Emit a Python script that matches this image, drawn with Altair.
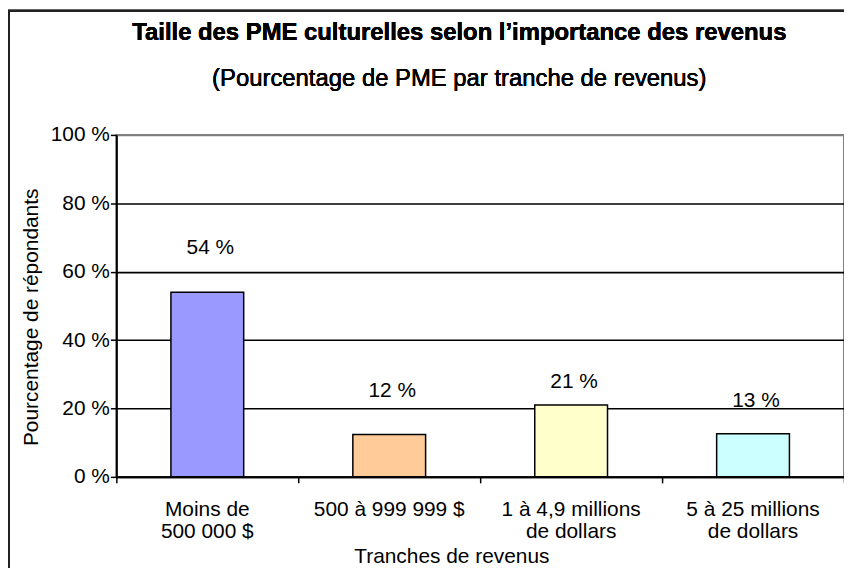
import altair as alt
import pandas as pd

# ---- data ----
categories = ["Moins de\n500 000 $", "500 à 999 999 $", "1 à 4,9 millions\nde dollars", "5 à 25 millions\nde dollars"]
values = [54, 12.4, 21, 12.6]
value_labels = ["54 %", "12 %", "21 %", "13 %"]
label_anchor = [67, 25, 27.6, 22.1]          # where each value label sits (in % units)
colors = ["#9999FF", "#FFCC99", "#FFFFCC", "#CCFFFF"]
y_ticks = [0, 20, 40, 60, 80, 100]
boundaries = [0, 1, 2, 3, 4]

title_text = "Taille des PME culturelles selon l’importance des revenus"
subtitle_text = "(Pourcentage de PME par tranche de revenus)"

FONT = "Liberation Sans"
W, H = 732, 344
FS = 21

df = pd.DataFrame({"cat": categories, "val": values, "lab": value_labels, "pos": label_anchor})
bdf = pd.DataFrame({"b": boundaries})

xscale = alt.Scale(domain=categories, paddingInner=0.6, paddingOuter=0.3)
yscale = alt.Scale(domain=[0, 100], nice=False)

yaxis = alt.Axis(values=y_ticks, labelExpr="datum.value + ' %'",
                 labelFontSize=FS, labelPadding=1, labelColor="black",
                 tickSize=6, tickColor="black", tickWidth=1.5,
                 domainColor="black", domainWidth=2,
                 grid=True, gridWidth=1.6,
                 gridColor={"condition": {"test": "datum.value >= 100", "value": "#808080"}, "value": "black"},
                 title="Pourcentage de répondants", titleFontSize=FS,
                 titleFontWeight="normal", titleColor="black",
                 titleAngle=-90, titleX=-85, titleY=183,
                 titleAlign="center", titleBaseline="middle")

bars = alt.Chart(df).mark_bar(stroke="black", strokeWidth=1.5).encode(
    x=alt.X("cat:N", sort=categories, scale=xscale,
            axis=alt.Axis(orient="bottom", ticks=False, labelAngle=0,
                          labelExpr="split(datum.label, '\\n')",
                          labelFontSize=FS, labelPadding=22, labelLineHeight=22,
                          labelColor="black", labelLimit=0,
                          domainColor="black", domainWidth=2,
                          title="Tranches de revenus", titleFontSize=FS,
                          titleFontWeight="normal", titleColor="black",
                          titleX=337, titleY=80, titleAlign="center",
                          titleBaseline="middle")),
    y=alt.Y("val:Q", scale=yscale, axis=yaxis),
    color=alt.Color("cat:N", scale=alt.Scale(domain=categories, range=colors), legend=None),
)

labels = alt.Chart(df).mark_text(fontSize=FS, color="black", baseline="middle", dx=3).encode(
    x=alt.X("cat:N", sort=categories, scale=xscale, axis=None),
    y=alt.Y("pos:Q", scale=yscale, axis=yaxis),
    text="lab:N",
)

ticks = alt.Chart(bdf).mark_point(opacity=0).encode(
    x=alt.X("b:Q", scale=alt.Scale(domain=[0, 4], nice=False, zero=False),
            axis=alt.Axis(orient="bottom", values=boundaries, labels=False,
                          ticks=True, tickSize=6, tickWidth=1.5, tickColor="black",
                          domain=False, grid=False, title=None)),
    y=alt.value(H),
)

frame = alt.Chart(df).mark_rect(fill=None, stroke="#222222", strokeWidth=2).encode(
    x=alt.value(-108), x2=alt.value(760), y=alt.value(-125), y2=alt.value(470)
)

title = alt.Chart(df).mark_text(text=title_text, fontSize=24, fontWeight="bold",
                                color="black", align="center", baseline="middle").encode(
    x=alt.value(345), y=alt.value(-102)
)
subtitle = alt.Chart(df).mark_text(text=subtitle_text, fontSize=24,
                                   color="black", align="center", baseline="middle").encode(
    x=alt.value(345), y=alt.value(-56)
)

chart = alt.layer(frame, title, subtitle, bars, labels, ticks).resolve_scale(
    x="independent"
).properties(
    width=W, height=H,
    autosize=alt.AutoSizeParams(type="none"),
    padding={"left": 109, "top": 126, "right": 0, "bottom": 90},
).configure(font=FONT).configure_view(stroke="#808080", strokeWidth=2)

chart.save("out.html", embed_options={"renderer": "svg", "actions": False})
